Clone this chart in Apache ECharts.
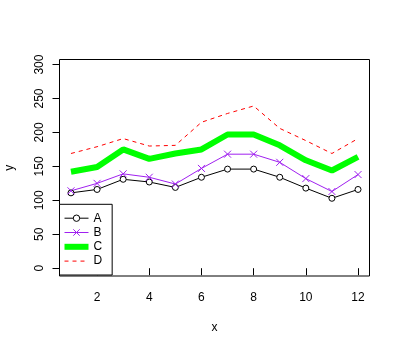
<!DOCTYPE html>
<html><head><meta charset="utf-8">
<script src="https://cdn.jsdelivr.net/npm/echarts@6/dist/echarts.min.js"></script>
<style>html,body{margin:0;padding:0;background:#fff}#c{width:400px;height:350px}</style>
</head><body><div id="c"></div>
<script>
var xs = [1,2,3,4,5,6,7,8,9,10,11,12];
var seriesA = [111,116,131,127,119,134,146,146,134,118,103,116];
var seriesB = [114,125,139,134,124,147,168,168,156,132,113,138];
var seriesC = [142,149,175,161,169,175,197,197,181,159,144,164];
var seriesD = [169,179,191,180,181,215,228,239,206,188,169,191];
var xTicks = [2,4,6,8,10,12];
var yTicks = [0,50,100,150,200,250,300];
var names = ['A','B','C','D'];

function pairs(v){ return xs.map(function(x,i){ return [x, v[i]]; }); }
var font = 'Liberation Sans, Arial, sans-serif';
var chart = echarts.init(document.getElementById('c'));
chart.setOption({
  animation: false,
  backgroundColor: '#fff',
  grid: {left: 59.5, top: 59.5, right: 30.5, bottom: 74, show: true, borderColor: '#000', borderWidth: 1, containLabel: false, outerBoundsMode: 'none'},
  xAxis: {
    type: 'value', min: 0.56, max: 12.44,
    name: 'x', nameLocation: 'middle', nameGap: 46,
    nameTextStyle: {color: '#000', fontSize: 12, fontFamily: font},
    axisLine: {show: false},
    splitLine: {show: false},
    axisTick: {show: true, inside: false, length: 7, lineStyle: {color: '#000'}, customValues: xTicks},
    axisLabel: {color: '#000', fontSize: 12, fontFamily: font, margin: 16, customValues: xTicks}
  },
  yAxis: {
    type: 'value', min: -11.5, max: 307.5,
    name: 'y', nameLocation: 'middle', nameGap: 44, nameRotate: 90,
    nameTextStyle: {color: '#000', fontSize: 12, fontFamily: font},
    axisLine: {show: false},
    splitLine: {show: false},
    axisTick: {show: true, inside: false, length: 7, lineStyle: {color: '#000'}, customValues: yTicks},
    axisLabel: {color: '#000', fontSize: 12, fontFamily: font, margin: 14, rotate: 90, customValues: yTicks}
  },
  legend: {
    orient: 'vertical', left: 59.5, top: 204.3,
    data: [
      {name: 'A', itemStyle: {color: '#fff', borderColor: '#000', borderWidth: 1}, lineStyle: {width: 1}},
      {name: 'B', itemStyle: {color: 'rgba(0,0,0,0)', borderColor: '#a020f0', borderWidth: 1}, lineStyle: {width: 1}},
      {name: 'C', itemStyle: {opacity: 0}, lineStyle: {width: 6}},
      {name: 'D', itemStyle: {opacity: 0}, lineStyle: {width: 1, type: [4,4]}}
    ],
    backgroundColor: '#fff', borderColor: '#000', borderWidth: 1, borderRadius: 0,
    padding: [7.9, 10, 7.9, 2],
    itemWidth: 24, itemHeight: 8, itemGap: 2.3,
    lineStyle: {width: 'inherit'},
    textStyle: {color: '#000', fontSize: 12, fontFamily: font}
  },
  series: [
    {name: 'A', type: 'line', data: pairs(seriesA), symbol: 'circle', symbolSize: 6,
     itemStyle: {color: '#fff', borderColor: '#000', borderWidth: 1},
     lineStyle: {color: '#000', width: 1}, z: 3},
    {name: 'B', type: 'line', data: pairs(seriesB), symbol: 'path://M0,0L10,10M10,0L0,10', symbolSize: 7,
     itemStyle: {color: 'rgba(0,0,0,0)', borderColor: '#a020f0', borderWidth: 1},
     lineStyle: {color: '#a020f0', width: 1}, z: 3},
    {name: 'C', type: 'line', data: pairs(seriesC), symbol: 'none', showSymbol: false,
     itemStyle: {color: '#00ff00'},
     lineStyle: {color: '#00ff00', width: 6}, z: 2},
    {name: 'D', type: 'line', data: pairs(seriesD), symbol: 'none', showSymbol: false,
     itemStyle: {color: '#ff0000'},
     lineStyle: {color: '#ff0000', width: 1, type: [4,4]}, z: 2}
  ]
});
</script></body></html>
